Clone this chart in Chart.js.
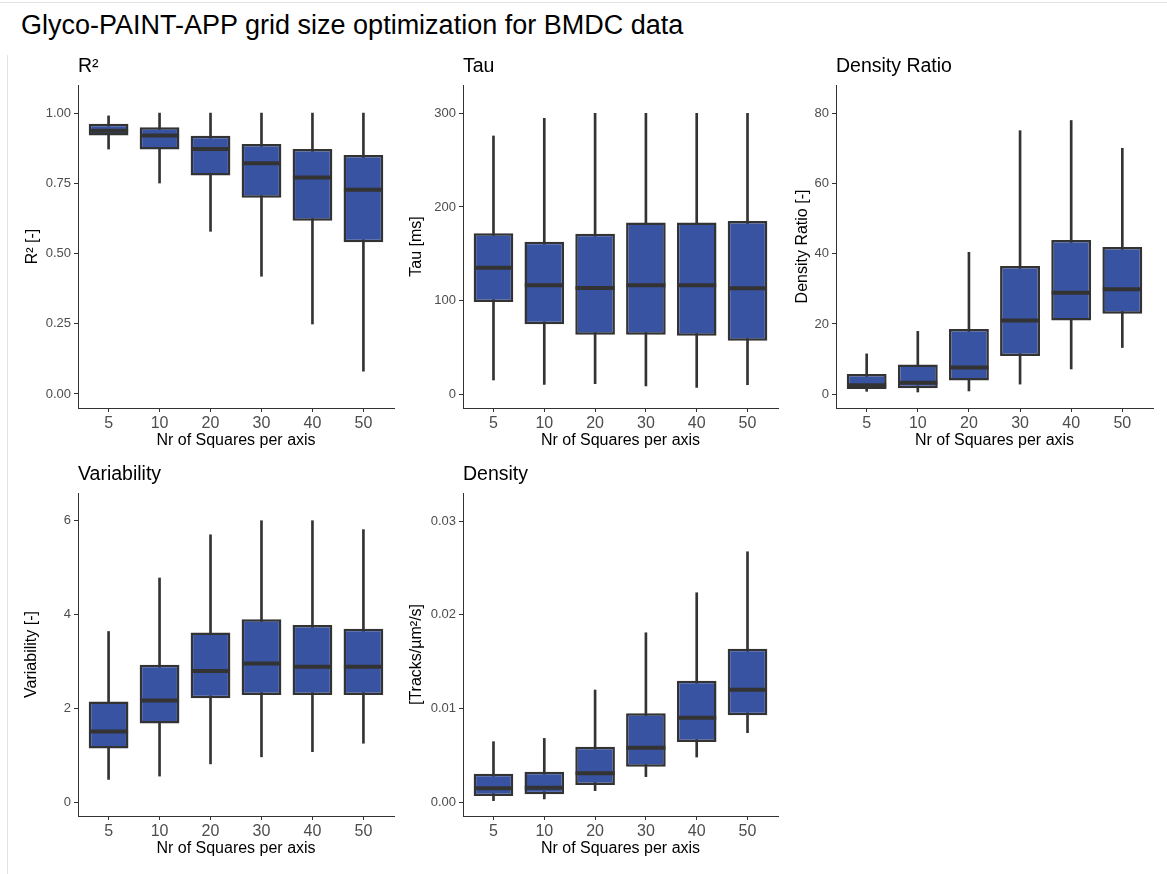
<!DOCTYPE html>
<html><head><meta charset="utf-8">
<script src="https://cdn.jsdelivr.net/npm/chart.js@4.4.1/dist/chart.umd.min.js"></script>
<style>
body{margin:0;background:#fff;width:1167px;height:874px;position:relative;overflow:hidden;font-family:"Liberation Sans",Arial,sans-serif;}
#title{position:absolute;left:21px;top:10px;font-size:27px;line-height:31px;color:#000;white-space:nowrap;}
.frameTop{position:absolute;left:0;top:2px;width:1167px;height:1px;background:#e3e3e3}
.frameLeft{position:absolute;left:7px;top:55px;width:1px;height:819px;background:#e3e3e3}
canvas{position:absolute}
</style></head><body>
<div class="frameTop"></div><div class="frameLeft"></div>
<div id="title">Glyco-PAINT-APP grid size optimization for BMDC data</div>
<script>
// ---- data ----
const categories = ['5','10','20','30','40','50'];

const r2Low  = [0.872, 0.751, 0.579, 0.419, 0.249, 0.081];
const r2Q1   = [0.920, 0.870, 0.778, 0.699, 0.617, 0.540];
const r2Med  = [0.937, 0.920, 0.872, 0.821, 0.771, 0.727];
const r2Q3   = [0.962, 0.950, 0.919, 0.890, 0.872, 0.851];
const r2High = [0.990, 1.000, 1.000, 1.000, 1.000, 1.000];
const r2Ticks = [0, 0.25, 0.5, 0.75, 1.0];

const tauLow  = [15.3, 10.7, 11.4, 8.9, 7.5, 10.3];
const tauQ1   = [98.6, 74.7, 63.7, 63.7, 62.6, 57.3];
const tauMed  = [135.2, 116.4, 113.5, 116.4, 116.4, 113.2];
const tauQ3   = [171.9, 163.0, 171.5, 183.3, 183.3, 185.0];
const tauHigh = [275.8, 294.7, 300, 300, 300, 300];
const tauTicks = [0, 100, 200, 300];

const drLow  = [0.85, 0.65, 0.95, 2.9, 7.2, 13.3];
const drQ1   = [1.5, 1.7, 3.9, 10.9, 21.0, 22.9];
const drMed  = [2.6, 3.3, 7.6, 21.0, 28.9, 29.9];
const drQ3   = [5.8, 8.5, 18.6, 36.5, 43.9, 41.9];
const drHigh = [11.5, 17.9, 40.4, 75.0, 77.9, 70.0];
const drTicks = [0, 20, 40, 60, 80];

const varLow  = [0.49, 0.56, 0.82, 0.97, 1.08, 1.26];
const varQ1   = [1.15, 1.68, 2.22, 2.29, 2.29, 2.29];
const varMed  = [1.51, 2.17, 2.80, 2.96, 2.89, 2.89];
const varQ3   = [2.15, 2.93, 3.62, 3.90, 3.78, 3.70];
const varHigh = [3.64, 4.78, 5.70, 6.00, 6.00, 5.81];
const varTicks = [0, 2, 4, 6];

const denLow  = [0.00018, 0.00036, 0.00124, 0.00274, 0.00483, 0.00743];
const denQ1   = [0.00068, 0.00085, 0.00185, 0.00380, 0.00643, 0.00928];
const denMed  = [0.00149, 0.00156, 0.00309, 0.00583, 0.00903, 0.01201];
const denQ3   = [0.00306, 0.00327, 0.00594, 0.00949, 0.01297, 0.01639];
const denHigh = [0.00647, 0.00682, 0.01198, 0.01809, 0.02236, 0.02673];
const denTicks = [0, 0.01, 0.02, 0.03];

// ---- panels ----
const FONT = '"Liberation Sans", Arial, sans-serif';
const panels = [
  {title:'R²', ytitle:'R² [-]', low:r2Low, q1:r2Q1, med:r2Med, q3:r2Q3, high:r2High, ticks:r2Ticks, dec:2, ymin:-0.05, ymax:1.10, left:10, top:50, width:390, yw:68, right:394},
  {title:'Tau', ytitle:'Tau [ms]', low:tauLow, q1:tauQ1, med:tauMed, q3:tauQ3, high:tauHigh, ticks:tauTicks, dec:0, ymin:-14.6, ymax:330.2, left:394, top:50, width:390, yw:69, right:778},
  {title:'Density Ratio', ytitle:'Density Ratio [-]', low:drLow, q1:drQ1, med:drMed, q3:drQ3, high:drHigh, ticks:drTicks, dec:0, ymin:-3.9, ymax:88, left:780, top:50, width:385, yw:56, right:1153},
  {title:'Variability', ytitle:'Variability [-]', low:varLow, q1:varQ1, med:varMed, q3:varQ3, high:varHigh, ticks:varTicks, dec:0, ymin:-0.29, ymax:6.59, left:9, top:458, width:391, yw:69, right:394},
  {title:'Density', ytitle:'[Tracks/µm²/s]', low:denLow, q1:denQ1, med:denMed, q3:denQ3, high:denHigh, ticks:denTicks, dec:2, ymin:-0.00146, ymax:0.033, left:394, top:458, width:390, yw:69, right:778}
];

function makePanel(p){
  const cv = document.createElement('canvas');
  cv.width = p.width; cv.height = 400;
  cv.style.left = p.left + 'px'; cv.style.top = p.top + 'px';
  cv.style.width = p.width + 'px'; cv.style.height = '400px';
  document.body.appendChild(cv);
  const xs = categories.map((c, i) => i + 1);
  const axisGrid = {display:true, drawOnChartArea:false, drawTicks:true, tickLength:4, color:'#333', offset:false};
  const axisBorder = {display:true, color:'#333', width:1};
  const padRight = p.left + p.width - p.right;
  const config = {
    type:'bar',
    data:{datasets:[
      {type:'line', data: xs.map((x, i) => ({x:x, y:p.med[i]})), showLine:false, pointStyle:'line',
       pointRadius:19.5, pointHoverRadius:19.5, pointBorderWidth:4, pointHoverBorderWidth:4,
       pointBorderColor:'#333333', borderColor:'#333333', order:0},
      {type:'bar', data: xs.map((x, i) => ({x:x, y:[p.q1[i], p.q3[i]]})), backgroundColor:'#3953a3',
       borderColor:'#333333', borderWidth:2.5, borderSkipped:false, barPercentage:0.78, categoryPercentage:1,
       grouped:false, order:1},
      {type:'bar', data: xs.map((x, i) => ({x:x, y:[p.low[i], p.high[i]]})), backgroundColor:'#333333',
       borderWidth:0, barPercentage:1, categoryPercentage:1, maxBarThickness:2, grouped:false, order:2}
    ]},
    options:{
      responsive:false, maintainAspectRatio:false, animation:false,
      layout:{autoPadding:false, padding:{left:0, right:padRight, top:0, bottom:0}},
      plugins:{
        legend:{display:false}, tooltip:{enabled:false},
        title:{display:true, text:p.title, align:'start', fullSize:false, color:'#000',
               font:{family:FONT, size:19.5, weight:'normal'}, padding:{top:5.3, bottom:6.3}}
      },
      scales:{
        x:{type:'linear', min:0.4, max:6.6, offset:false,
           afterBuildTicks:(s) => { s.ticks = xs.map(v => ({value:v})); },
           afterFit:(s) => { s.height = 42; s.paddingLeft = 0; s.paddingRight = 0; },
           ticks:{callback:(v) => categories[Math.round(v) - 1], color:'#4d4d4d', font:{family:FONT, size:16},
                  padding:2, maxRotation:0, autoSkip:false},
           grid:axisGrid, border:axisBorder,
           title:{display:true, text:'Nr of Squares per axis', color:'#000', font:{family:FONT, size:16}, padding:{top:0, bottom:0}}},
        y:{type:'linear', min:p.ymin, max:p.ymax,
           afterBuildTicks:(s) => { s.ticks = p.ticks.map(v => ({value:v})); },
           afterFit:(s) => { s.width = p.yw; },
           ticks:{callback:(v) => Number(v).toFixed(p.dec), color:'#4d4d4d', font:{family:FONT, size:13}, padding:3},
           grid:axisGrid, border:axisBorder,
           title:{display:true, text:p.ytitle, color:'#000', font:{family:FONT, size:16}, padding:{top:13.4, bottom:0}}}
      }
    }
  };
  const chart = new Chart(cv, config);
  // make the plot area end where the reference's does
  for (let k = 0; k < 3; k++) {
    const diff = (p.left + chart.chartArea.right) - p.right;
    if (Math.abs(diff) < 0.5) break;
    config.options.layout.padding.right += diff;
    chart.options.layout = config.options.layout;
    chart.update('none');
  }
}
panels.forEach(makePanel);
</script>
</body></html>
